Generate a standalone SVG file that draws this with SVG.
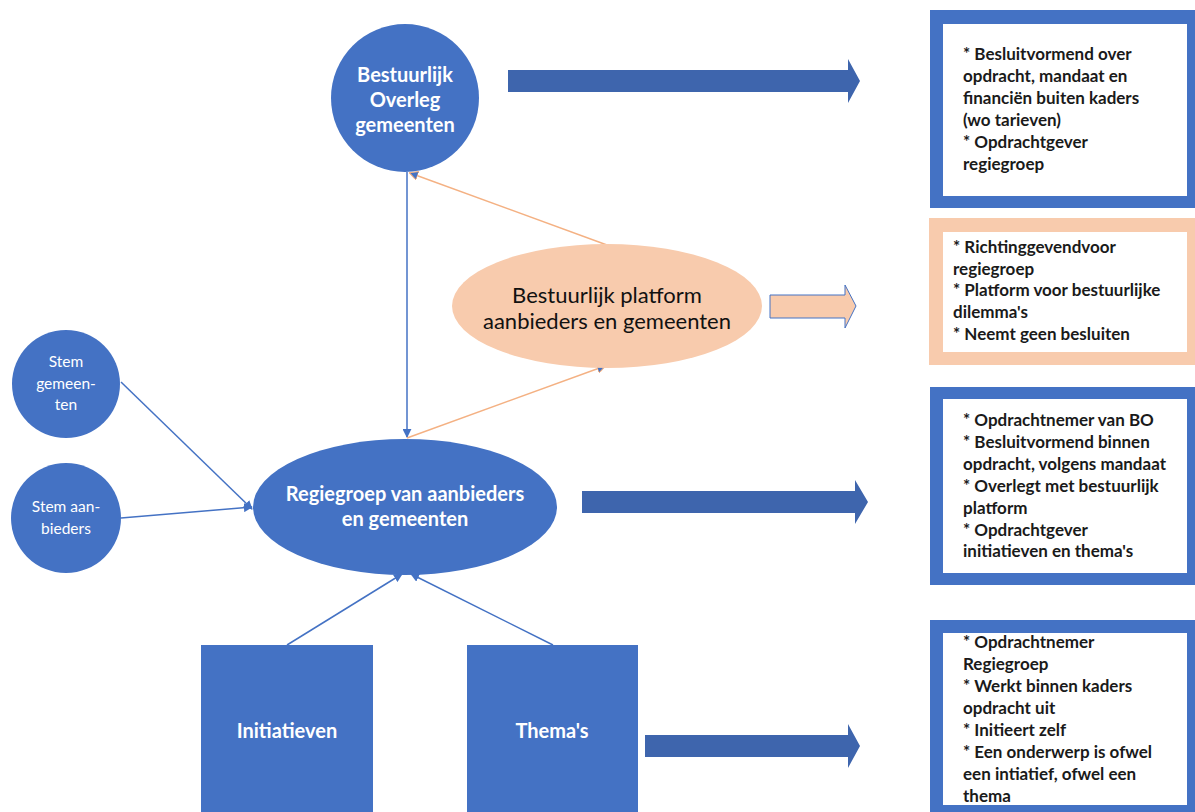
<svg xmlns="http://www.w3.org/2000/svg" width="1195" height="812" viewBox="0 0 1195 812">
<style>
.node{fill:#4472C4;}
.blk{fill:#3E65AD;}
.wt{fill:#ffffff;font-family:Lato,"Open Sans",sans-serif;font-weight:bold;font-size:20px;text-anchor:middle;}
.ws{fill:#ffffff;font-family:Lato,"Open Sans",sans-serif;font-size:15.5px;text-anchor:middle;}
.bt{fill:#111111;font-family:Lato,"Open Sans",sans-serif;font-size:22px;text-anchor:middle;}
.box{fill:#1a1a1a;font-family:Lato,"Open Sans",sans-serif;font-weight:bold;font-size:17px;}
.lb{stroke:#4472C4;stroke-width:1.5;fill:none;}
.lo{stroke:#F4B183;stroke-width:1.5;fill:none;}
</style>
<defs>
<marker id="ab" viewBox="0 0 10 10" refX="9" refY="5" markerWidth="6" markerHeight="6" markerUnits="strokeWidth" orient="auto">
<path d="M0,0 L10,5 L0,10 z" fill="#4472C4"/>
</marker>
<marker id="ao" viewBox="0 0 10 10" refX="9" refY="5" markerWidth="6" markerHeight="6" markerUnits="strokeWidth" orient="auto">
<path d="M0,0 L10,5 L0,10 z" fill="#4472C4" stroke="#F4B183" stroke-width="1.2"/>
</marker>
</defs>
<rect width="1195" height="812" fill="#ffffff"/>

<g id="connectors">
<line class="lb" x1="407" y1="172" x2="407" y2="437" marker-end="url(#ab)"/>
<line class="lo" x1="607" y1="245" x2="410" y2="173" marker-end="url(#ao)"/>
<line class="lo" x1="407" y1="438" x2="605" y2="366" marker-end="url(#ao)"/>
<line class="lb" x1="121" y1="382" x2="252" y2="509" marker-end="url(#ab)"/>
<line class="lb" x1="121" y1="518" x2="252" y2="507" marker-end="url(#ab)"/>
<line class="lb" x1="287" y1="645" x2="402" y2="574" marker-end="url(#ab)"/>
<line class="lb" x1="553" y1="645" x2="411" y2="574" marker-end="url(#ab)"/>
</g>

<g id="bestuurlijk-overleg">
<circle class="node" cx="405" cy="98" r="74"/>
<text class="wt" x="405" y="82">Bestuurlijk</text>
<text class="wt" x="405" y="107">Overleg</text>
<text class="wt" x="405" y="132">gemeenten</text>
</g>

<g id="bestuurlijk-platform">
<ellipse cx="607" cy="306" rx="155" ry="62" fill="#F8CBAD"/>
<text class="bt" x="607" y="303">Bestuurlijk platform</text>
<text class="bt" x="607" y="329">aanbieders en gemeenten</text>
</g>

<g id="regiegroep">
<ellipse class="node" cx="405" cy="507" rx="152" ry="68"/>
<text class="wt" x="405" y="501">Regiegroep van aanbieders</text>
<text class="wt" x="405" y="526">en gemeenten</text>
</g>

<g id="stem-gemeenten">
<circle class="node" cx="66" cy="384" r="54"/>
<text class="ws" x="66" y="367">Stem</text>
<text class="ws" x="66" y="389">gemeen-</text>
<text class="ws" x="66" y="410">ten</text>
</g>

<g id="stem-aanbieders">
<circle class="node" cx="66" cy="518" r="55"/>
<text class="ws" x="66" y="512">Stem aan-</text>
<text class="ws" x="66" y="534">bieders</text>
</g>

<g id="initiatieven">
<rect class="node" x="201" y="645" width="172" height="170"/>
<text class="wt" x="287" y="738">Initiatieven</text>
</g>

<g id="themas">
<rect class="node" x="467" y="645" width="171" height="170"/>
<text class="wt" x="552" y="738">Thema's</text>
</g>

<g id="arrow-bo">
<path class="blk" d="M508,70 H848 V59 L860,81 L848,103 V92 H508 z"/>
</g>
<g id="arrow-platform">
<path d="M770,295 H845 V285 L856,306 L845,328 V318 H770 z" fill="#F8CBAD" stroke="#4472C4" stroke-width="1"/>
</g>
<g id="arrow-regie">
<path class="blk" d="M582,491 H855 V480 L868,502 L855,524 V513 H582 z"/>
</g>
<g id="arrow-themas">
<path class="blk" d="M645,735 H848 V724 L860,746 L848,768 V757 H645 z"/>
</g>

<g id="box-bo">
<rect x="930" y="10" width="270" height="198" fill="#4472C4"/>
<rect x="943" y="24" width="244" height="172" fill="#ffffff"/>
<text class="box" x="963" y="60">* Besluitvormend over</text>
<text class="box" x="963" y="82">opdracht, mandaat en</text>
<text class="box" x="963" y="104">financiën buiten kaders</text>
<text class="box" x="963" y="126">(wo tarieven)</text>
<text class="box" x="963" y="148">* Opdrachtgever</text>
<text class="box" x="963" y="170">regiegroep</text>
</g>

<g id="box-platform">
<rect x="929" y="218" width="271" height="147" fill="#F8CBAD"/>
<rect x="943" y="232" width="244" height="120" fill="#ffffff"/>
<text class="box" x="953" y="253">* Richtinggevendvoor</text>
<text class="box" x="953" y="275">regiegroep</text>
<text class="box" x="953" y="296">* Platform voor bestuurlijke</text>
<text class="box" x="953" y="318">dilemma's</text>
<text class="box" x="953" y="340">* Neemt geen besluiten</text>
</g>

<g id="box-regie">
<rect x="930" y="387" width="270" height="198" fill="#4472C4"/>
<rect x="943" y="399" width="244" height="174" fill="#ffffff"/>
<text class="box" x="963" y="426">* Opdrachtnemer van BO</text>
<text class="box" x="963" y="448">* Besluitvormend binnen</text>
<text class="box" x="963" y="470">opdracht, volgens mandaat</text>
<text class="box" x="963" y="492">* Overlegt met bestuurlijk</text>
<text class="box" x="963" y="514">platform</text>
<text class="box" x="963" y="536">* Opdrachtgever</text>
<text class="box" x="963" y="557">initiatieven en thema's</text>
</g>

<g id="box-themas">
<rect x="930" y="620" width="270" height="200" fill="#4472C4"/>
<rect x="943" y="633" width="244" height="172" fill="#ffffff"/>
<text class="box" x="963" y="648">* Opdrachtnemer</text>
<text class="box" x="963" y="670">Regiegroep</text>
<text class="box" x="963" y="692">* Werkt binnen kaders</text>
<text class="box" x="963" y="714">opdracht uit</text>
<text class="box" x="963" y="736">* Initieert zelf</text>
<text class="box" x="963" y="758">* Een onderwerp is ofwel</text>
<text class="box" x="963" y="780">een intiatief, ofwel een</text>
<text class="box" x="963" y="802">thema</text>
</g>
</svg>
